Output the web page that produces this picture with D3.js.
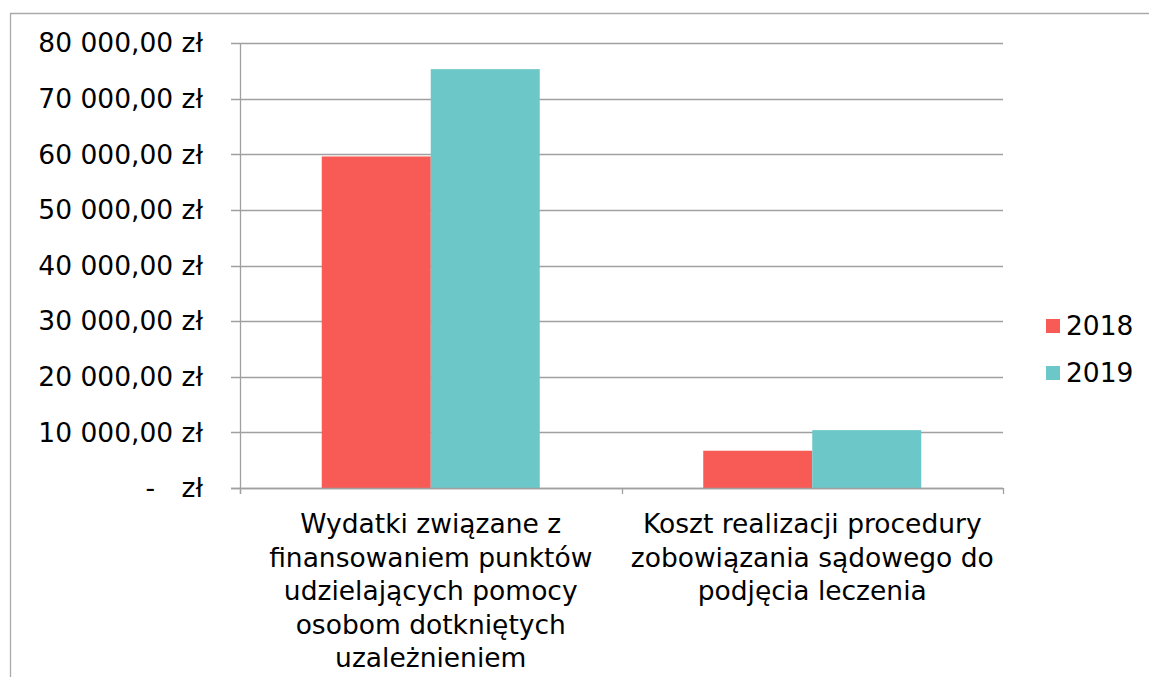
<!DOCTYPE html>
<html><head><meta charset="utf-8">
<script src="https://cdn.jsdelivr.net/npm/d3@7"></script>
<style>
body{margin:0;background:#fff;}
text{font-family:"DejaVu Sans",Verdana,sans-serif;fill:#000;}
</style></head>
<body>
<svg id="c" width="1149" height="677"></svg>
<script>
const categories = [
  ["Wydatki związane z","finansowaniem punktów","udzielających pomocy","osobom dotkniętych","uzależnieniem"],
  ["Koszt realizacji procedury","zobowiązania sądowego do","podjęcia leczenia"]
];
const seriesNames = ["2018","2019"];
const values2018 = [59600, 6700];
const values2019 = [75300, 10400];
const yTicks = [0,10000,20000,30000,40000,50000,60000,70000,80000];
const colors = ["#f85a55","#6bc7c8"];

const svg = d3.select("#c");
const fs = 26.5;
// outer border
svg.append("line").attr("x1",10).attr("x2",1149).attr("y1",13.5).attr("y2",13.5).attr("stroke","#aaa").attr("stroke-width",1.3);
svg.append("line").attr("x1",10.5).attr("x2",10.5).attr("y1",13).attr("y2",677).attr("stroke","#aaa").attr("stroke-width",1.3);

const L=240, R=1003, T=43, B=488;
const catIdx = categories.map((d,i)=>i);
const x = d3.scaleBand().domain(catIdx).range([L,R]);
const xs = d3.scaleBand().domain(seriesNames).range([0,x.bandwidth()]).paddingOuter(0.75).paddingInner(0);
const y = d3.scaleLinear().domain([0,80000]).range([B,T]);

// gridlines
svg.append("g").selectAll("line").data(yTicks).join("line")
  .attr("x1",L-9).attr("x2",R).attr("y1",d=>Math.round(y(d))+0.5).attr("y2",d=>Math.round(y(d))+0.5)
  .attr("stroke","#a0a0a0").attr("stroke-width",1.3);
// y axis line
svg.append("line").attr("x1",L+0.5).attr("x2",L+0.5).attr("y1",T).attr("y2",B+6).attr("stroke","#a0a0a0").attr("stroke-width",1.3);
// x ticks
const xt = [L, (L+R)/2, R];
svg.append("g").selectAll("line").data(xt).join("line")
  .attr("x1",d=>Math.round(d)+0.5).attr("x2",d=>Math.round(d)+0.5).attr("y1",B).attr("y2",B+6)
  .attr("stroke","#a0a0a0").attr("stroke-width",1.3);

// bars
const data = [];
catIdx.forEach(i=>{
  data.push({c:i,s:"2018",v:values2018[i],col:colors[0]});
  data.push({c:i,s:"2019",v:values2019[i],col:colors[1]});
});
svg.append("g").selectAll("rect").data(data).join("rect")
  .attr("x",d=>x(d.c)+xs(d.s)).attr("width",xs.bandwidth())
  .attr("y",d=>y(d.v)).attr("height",d=>y(0)-y(d.v)).attr("fill",d=>d.col);
// x axis line over bars
svg.append("line").attr("x1",L-9).attr("x2",R).attr("y1",B+0.5).attr("y2",B+0.5).attr("stroke","#a0a0a0").attr("stroke-width",1.3);

// y labels
const fmt = v => v===0 ? "zł" : d3.format(",.2f")(v).replace(/,/g," ").replace(".",",")+" zł";
svg.append("g").selectAll("text").data(yTicks).join("text")
  .attr("x",203).attr("y",d=>y(d)).attr("dy","0.35em").attr("text-anchor","end")
  .attr("font-size",fs).text(fmt);
svg.append("text").attr("x",155).attr("y",y(0)).attr("dy","0.35em").attr("text-anchor","end")
  .attr("font-size",fs).text("-");

// category labels
catIdx.forEach(i=>{
  const t = svg.append("text").attr("text-anchor","middle").attr("font-size",fs);
  categories[i].forEach((ln,j)=>{
    t.append("tspan").attr("x",x(i)+x.bandwidth()/2).attr("y",533+j*33.6).text(ln);
  });
});

// legend
const lg = svg.append("g");
seriesNames.forEach((s,i)=>{
  const cy = 326 + i*47;
  lg.append("rect").attr("x",1046).attr("y",cy-7).attr("width",14).attr("height",14).attr("fill",colors[i]);
  lg.append("text").attr("x",1066).attr("y",cy).attr("dy","0.35em").attr("font-size",fs).text(s);
});
</script>
</body></html>
